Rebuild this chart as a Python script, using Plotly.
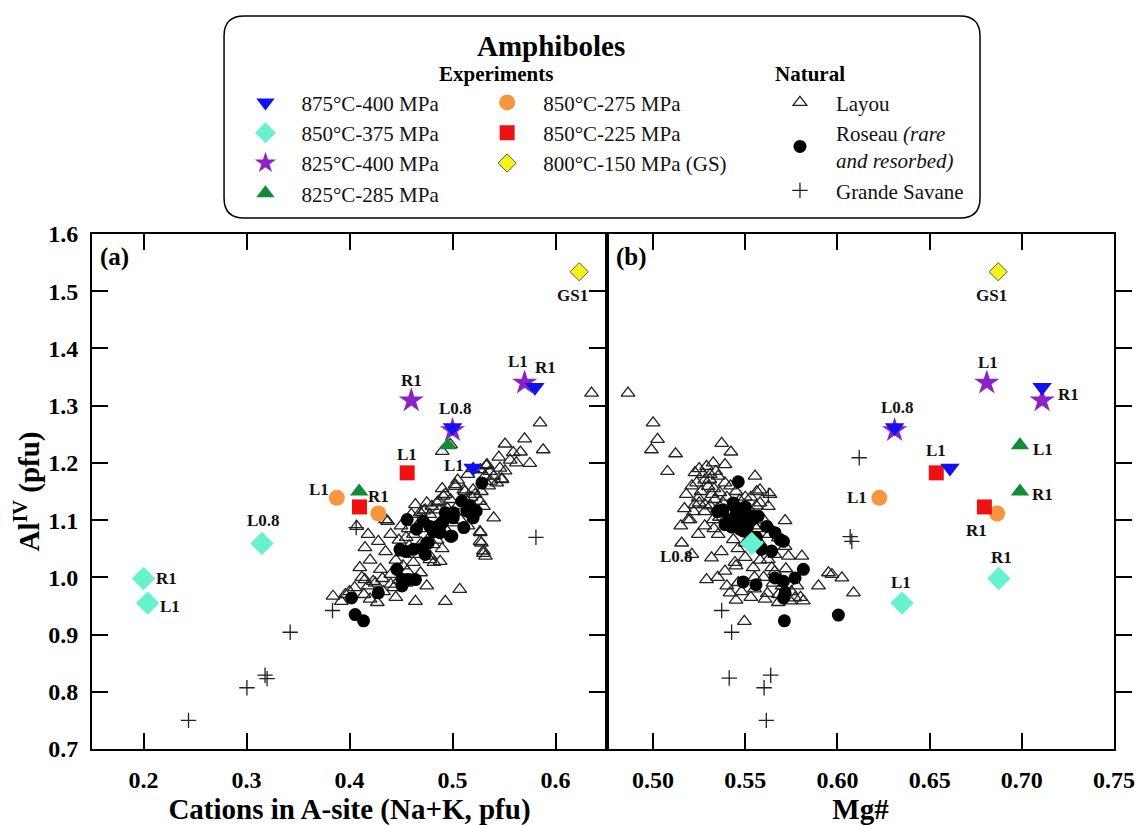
import plotly.graph_objects as go

# ---------------- data ----------------
# Experiments: run labels, Na+K (A-site), Mg#, Al(IV)
blue_run = ["L0.8", "L1", "R1"]          # 875°C-400 MPa
blue_nak = [0.500, 0.520, 0.580]
blue_mg = [0.631, 0.661, 0.711]
blue_al = [1.262, 1.191, 1.332]

aqua_run = ["L0.8", "L1", "R1"]          # 850°C-375 MPa
aqua_nak = [0.315, 0.204, 0.200]
aqua_mg = [0.5535, 0.635, 0.6875]
aqua_al = [1.059, 0.955, 0.998]

purple_run = ["L0.8", "L1", "R1"]        # 825°C-400 MPa
purple_nak = [0.500, 0.570, 0.460]
purple_mg = [0.631, 0.681, 0.711]
purple_al = [1.257, 1.340, 1.309]

green_run = ["L1", "R1"]                 # 825°C-285 MPa
green_nak = [0.4955, 0.4094]
green_mg = [0.699, 0.699]
green_al = [1.231, 1.150]

orange_run = ["L1", "R1"]                # 850°C-275 MPa
orange_nak = [0.3877, 0.428]
orange_mg = [0.6227, 0.6866]
orange_al = [1.139, 1.1115]

red_run = ["L1", "R1"]                   # 850°C-225 MPa
red_nak = [0.456, 0.4097]
red_mg = [0.6536, 0.6797]
red_al = [1.1826, 1.123]

yellow_run = ["GS1"]                     # 800°C-150 MPa (GS)
yellow_nak = [0.623]
yellow_mg = [0.6872]
yellow_al = [1.534]

# Natural samples, panel (a): Na+K vs Al(IV)
layou_a_x = [0.635, 0.585, 0.570, 0.551, 0.566, 0.588, 0.575, 0.490, 0.498, 0.533, 0.546, 0.551, 0.540, 0.548,
             0.537, 0.527, 0.503, 0.511, 0.520, 0.522, 0.491, 0.498, 0.464, 0.485, 0.493, 0.472, 0.457, 0.540,
             0.527, 0.528, 0.532, 0.530, 0.464, 0.451, 0.482, 0.462, 0.428, 0.415, 0.418, 0.407, 0.437, 0.410,
             0.430, 0.415, 0.405, 0.423, 0.443, 0.464, 0.493, 0.507, 0.384, 0.396, 0.414, 0.427, 0.440, 0.475,
             0.478, 0.488, 0.456, 0.469, 0.435, 0.470, 0.478, 0.487, 0.495, 0.505, 0.513, 0.518, 0.528, 0.535,
             0.543, 0.455, 0.462, 0.470, 0.480, 0.470, 0.458, 0.448, 0.445, 0.452, 0.440, 0.432, 0.425, 0.448,
             0.455, 0.500, 0.508, 0.515, 0.495, 0.485, 0.490, 0.559, 0.412, 0.420,
             0.5334, 0.5363, 0.5315, 0.5479, 0.5026, 0.512, 0.4864, 0.480, 0.4735, 0.4687, 0.5267, 0.530,
             0.5267, 0.5267, 0.530, 0.4814, 0.4783, 0.392, 0.400, 0.418, 0.433, 0.445, 0.420, 0.435, 0.440,
             0.450, 0.460, 0.475, 0.490, 0.505, 0.515, 0.520, 0.556, 0.562, 0.545]
layou_a_y = [1.322, 1.270, 1.242, 1.233, 1.219, 1.223, 1.199, 1.220, 1.232, 1.195, 1.191, 1.186, 1.177, 1.172,
             1.168, 1.188, 1.159, 1.153, 1.153, 1.145, 1.142, 1.136, 1.127, 1.130, 1.145, 1.116, 1.085, 1.104,
             1.078, 1.060, 1.037, 1.042, 1.040, 1.043, 1.026, 1.026, 1.063, 1.052, 1.075, 1.089, 1.098, 1.017,
             1.014, 0.996, 0.982, 0.993, 0.982, 0.958, 0.958, 0.979, 0.967, 0.970, 0.970, 0.956, 0.988, 0.985,
             1.031, 1.028, 1.011, 1.008, 1.101, 1.100, 1.110, 1.118, 1.120, 1.125, 1.135, 1.140, 1.150, 1.160,
             1.165, 1.070, 1.075, 1.085, 1.075, 1.060, 1.055, 1.065, 1.030, 1.020, 1.005, 0.998, 0.990, 0.995,
             0.990, 1.095, 1.100, 1.090, 1.080, 1.065, 1.050, 1.218, 1.000, 0.962,
             1.197, 1.185, 1.177, 1.171, 1.162, 1.150, 1.133, 1.124, 1.118, 1.113, 1.133, 1.124,
             1.080, 1.063, 1.046, 1.057, 1.037, 0.958, 0.975, 0.985, 0.975, 0.965, 1.030, 1.045, 1.075,
             1.090, 1.110, 1.130, 1.155, 1.170, 1.180, 1.190, 1.205, 1.200, 1.210]

roseau_a_x = [0.5285, 0.509, 0.523, 0.520, 0.511, 0.498, 0.491, 0.478, 0.465, 0.456, 0.475, 0.462, 0.449, 0.4735,
              0.501, 0.493, 0.514, 0.488, 0.485, 0.446, 0.451, 0.457, 0.464, 0.451, 0.428, 0.402, 0.4055, 0.4136,
              0.455, 0.517, 0.470, 0.4765, 0.4716, 0.4813, 0.4894, 0.5007, 0.5154, 0.4993]
roseau_a_y = [1.165, 1.133, 1.1155, 1.104, 1.087, 1.072, 1.098, 1.089, 1.084, 1.101, 1.060, 1.049, 1.049, 1.040,
              1.113, 1.113, 1.1155, 1.078, 1.089, 1.014, 0.996, 0.996, 0.996, 0.985, 0.973, 0.964, 0.935, 0.924,
              1.045, 1.125, 1.050, 1.060, 1.098, 1.080, 1.095, 1.104, 1.118, 1.072]

savane_a_x = [0.4065, 0.581, 0.3835, 0.3424, 0.318, 0.320, 0.3004, 0.2437]
savane_a_y = [1.087, 1.070, 0.942, 0.904, 0.829, 0.823, 0.807, 0.750]

# Natural samples, panel (b): Mg# vs Al(IV)
layou_b_x = [0.4864, 0.500, 0.5024, 0.4991, 0.5122, 0.5372, 0.5422, 0.5078, 0.5553, 0.5562, 0.5716, 0.520, 0.529,
             0.5326, 0.539, 0.5227, 0.5308, 0.5353, 0.5236, 0.5299, 0.539, 0.558, 0.5634, 0.5245, 0.5362, 0.5335,
             0.5227, 0.5281, 0.519, 0.5326, 0.558, 0.5625, 0.5245, 0.5353, 0.5435, 0.5679, 0.5716, 0.5634, 0.5317,
             0.539, 0.529, 0.5444, 0.5462, 0.5543, 0.5625, 0.5643, 0.5734, 0.5807, 0.5897, 0.5951, 0.597, 0.6024,
             0.6087, 0.5417, 0.5607, 0.5679, 0.5815, 0.5495, 0.577, 0.5743, 0.527, 0.534, 0.526, 0.532, 0.540,
             0.545, 0.550, 0.528, 0.535, 0.545, 0.552, 0.540, 0.548, 0.555, 0.560, 0.553, 0.558, 0.546, 0.550,
             0.537, 0.560, 0.555, 0.565, 0.570, 0.575, 0.548, 0.553, 0.562, 0.566, 0.5155, 0.5210,
             0.525, 0.531, 0.528, 0.521, 0.533, 0.542, 0.518, 0.525, 0.531, 0.538, 0.547, 0.553, 0.556, 0.522,
             0.517, 0.536, 0.543, 0.556, 0.563, 0.528, 0.533, 0.515, 0.550, 0.545, 0.558, 0.566, 0.572, 0.555,
             0.568, 0.578, 0.580, 0.545, 0.540, 0.535]
layou_b_y = [1.322, 1.270, 1.241, 1.223, 1.216, 1.234, 1.219, 1.185, 1.177, 1.150, 1.099, 1.101, 1.194,
             1.200, 1.197, 1.183, 1.171, 1.177, 1.165, 1.159, 1.165, 1.153, 1.145, 1.139, 1.148, 1.136,
             1.127, 1.127, 1.101, 1.101, 1.130, 1.124, 1.075, 1.075, 1.066, 1.069, 1.054, 1.087, 1.034,
             1.011, 0.996, 1.026, 0.991, 1.017, 1.031, 1.017, 1.037, 1.037, 0.985, 1.008, 1.005, 0.999,
             0.973, 0.973, 0.962, 0.956, 0.959, 0.923, 0.964, 0.959, 1.180, 1.185, 1.150, 1.145, 1.140,
             1.150, 1.140, 1.115, 1.120, 1.125, 1.120, 1.105, 1.095, 1.090, 1.100, 1.070, 1.060, 1.050, 1.035,
             1.045, 1.000, 1.000, 0.990, 0.985, 0.975, 0.975, 0.965, 0.972, 1.010, 1.060, 1.040,
             1.190, 1.180, 1.170, 1.160, 1.155, 1.160, 1.145, 1.130, 1.125, 1.130, 1.135, 1.140, 1.125, 1.115,
             1.120, 1.105, 1.100, 1.085, 1.075, 1.090, 1.085, 1.090, 1.060, 1.020, 1.030, 1.040, 1.015, 0.980,
             0.970, 0.985, 0.965, 0.960, 0.985, 1.000]

roseau_b_x = [0.5462, 0.538, 0.5435, 0.550, 0.557, 0.539, 0.5426, 0.5489, 0.5589, 0.5643, 0.5689, 0.5815, 0.5489,
              0.5558, 0.5661, 0.5707, 0.577, 0.5716, 0.5707, 0.5712, 0.6005, 0.5535, 0.5489, 0.5408, 0.5471,
              0.5543, 0.5616, 0.5661, 0.5707, 0.545, 0.535, 0.552, 0.541, 0.547, 0.556, 0.544, 0.551]
roseau_b_y = [1.167, 1.118, 1.130, 1.123, 1.107, 1.092, 1.088, 1.081, 1.049, 1.046, 1.066, 1.014, 0.992,
              0.987, 0.999, 0.993, 0.999, 0.973, 0.964, 0.924, 0.934, 1.101, 1.113, 1.092, 1.084,
              1.107, 1.089, 1.078, 1.063, 1.110, 1.115, 1.095, 1.100, 1.095, 1.070, 1.125, 1.085]

savane_b_x = [0.6118, 0.5625, 0.6069, 0.6078, 0.5372, 0.5426, 0.5638, 0.5413, 0.5602, 0.5614]
savane_b_y = [1.209, 1.143, 1.071, 1.063, 0.942, 0.904, 0.829, 0.824, 0.807, 0.750]

x_a_ticks = [0.2, 0.3, 0.4, 0.5, 0.6]
x_a_labels = ["0.2", "0.3", "0.4", "0.5", "0.6"]
x_b_ticks = [0.50, 0.55, 0.60, 0.65, 0.70, 0.75]
x_b_labels = ["0.50", "0.55", "0.60", "0.65", "0.70", "0.75"]
y_ticks = [0.7, 0.8, 0.9, 1.0, 1.1, 1.2, 1.3, 1.4, 1.5, 1.6]
y_labels = ["0.7", "0.8", "0.9", "1.0", "1.1", "1.2", "1.3", "1.4", "1.5", "1.6"]

# ---------------- styling ----------------
FONT = "Liberation Serif"
fig = go.Figure()


def add_pair(name, xa, xb, y, marker, legend, rank):
    fig.add_trace(go.Scatter(x=xa, y=y, mode="markers", name=name, marker=marker,
                             xaxis="x", yaxis="y", legend=legend, legendgroup=name,
                             legendrank=rank, showlegend=True, hoverinfo="skip"))
    fig.add_trace(go.Scatter(x=xb, y=y, mode="markers", name=name, marker=marker,
                             xaxis="x2", yaxis="y", legend=legend, legendgroup=name,
                             showlegend=False, hoverinfo="skip"))


def add_nat(name, xa, ya, xb, yb, marker, rank):
    fig.add_trace(go.Scatter(x=xa, y=ya, mode="markers", name=name, marker=marker,
                             xaxis="x", yaxis="y", legend="legend3", legendgroup=name,
                             legendrank=rank, showlegend=True, hoverinfo="skip"))
    fig.add_trace(go.Scatter(x=xb, y=yb, mode="markers", name=name, marker=marker,
                             xaxis="x2", yaxis="y", legend="legend3", legendgroup=name,
                             showlegend=False, hoverinfo="skip"))


add_nat("Layou", layou_a_x, layou_a_y, layou_b_x, layou_b_y,
        dict(symbol="triangle-up-open", size=12, color="#222222", line=dict(width=1.3)), 1)
add_nat("Roseau <i>(rare</i><br><i>and resorbed)</i>", roseau_a_x, roseau_a_y, roseau_b_x, roseau_b_y,
        dict(symbol="circle", size=13, color="black"), 2)
add_nat("Grande Savane", savane_a_x, savane_a_y, savane_b_x, savane_b_y,
        dict(symbol="cross-thin-open", size=11, color="#222222", line=dict(width=1.3)), 3)

add_pair("850°C-375 MPa", aqua_nak, aqua_mg, aqua_al,
         dict(symbol="diamond", size=18, color="#66F2CC"), "legend", 2)
add_pair("825°C-400 MPa", purple_nak, purple_mg, purple_al,
         dict(symbol="star", size=19, color="#8A22C8"), "legend", 3)
add_pair("825°C-285 MPa", green_nak, green_mg, green_al,
         dict(symbol="triangle-up", size=16, color="#138A36"), "legend", 4)
add_pair("850°C-275 MPa", orange_nak, orange_mg, orange_al,
         dict(symbol="circle", size=16, color="#F7963C"), "legend2", 1)
add_pair("850°C-225 MPa", red_nak, red_mg, red_al,
         dict(symbol="square", size=15, color="#EE1111"), "legend2", 2)
add_pair("875°C-400 MPa", blue_nak, blue_mg, blue_al,
         dict(symbol="triangle-down", size=17, color="#1010F0"), "legend", 1)
add_pair("800°C-150 MPa (GS)", yellow_nak, yellow_mg, yellow_al,
         dict(symbol="diamond", size=14, color="#F7F21A", line=dict(width=0.8, color="#333333")), "legend2", 3)

# run labels: (run list, x values, y values, index, xref, dx, dy) -- offsets in px
label_specs = [
    (yellow_run, yellow_nak, yellow_al, 0, "x", -7, 24),
    (purple_run, purple_nak, purple_al, 1, "x", -7, -21),
    (blue_run, blue_nak, blue_al, 2, "x", 11, -20),
    (purple_run, purple_nak, purple_al, 2, "x", 0, -20),
    (blue_run, blue_nak, blue_al, 0, "x", 3, -19),
    (red_run, red_nak, red_al, 0, "x", 0, -18),
    (blue_run, blue_nak, blue_al, 1, "x", -19, -3),
    (orange_run, orange_nak, orange_al, 0, "x", -18, -8),
    (orange_run, orange_nak, orange_al, 1, "x", 0, -17),
    (aqua_run, aqua_nak, aqua_al, 0, "x", 2, -23),
    (aqua_run, aqua_nak, aqua_al, 2, "x", 23, 0),
    (aqua_run, aqua_nak, aqua_al, 1, "x", 22, 3),
    (yellow_run, yellow_mg, yellow_al, 0, "x2", -7, 24),
    (purple_run, purple_mg, purple_al, 1, "x2", 1, -20),
    (purple_run, purple_mg, purple_al, 2, "x2", 26, -6),
    (blue_run, blue_mg, blue_al, 0, "x2", 3, -20),
    (red_run, red_mg, red_al, 0, "x2", 0, -22),
    (green_run, green_mg, green_al, 0, "x2", 23, 4),
    (green_run, green_mg, green_al, 1, "x2", 23, 3),
    (orange_run, orange_mg, orange_al, 0, "x2", -22, 0),
    (red_run, red_mg, red_al, 1, "x2", -8, 24),
    (aqua_run, aqua_mg, aqua_al, 2, "x2", 3, -21),
    (aqua_run, aqua_mg, aqua_al, 1, "x2", -1, -21),
    (aqua_run, aqua_mg, aqua_al, 0, "x2", -75, 13),
]
annotations = []
for run, xs, ys, i, xref, dx, dy in label_specs:
    annotations.append(dict(x=xs[i], y=ys[i], xref=xref, yref="y", text="<b>%s</b>" % run[i],
                            showarrow=False, xshift=dx, yshift=-dy, xanchor="center", yanchor="middle",
                            font=dict(family=FONT, size=17, color="#111111")))

# panel letters and legend headings
head = dict(showarrow=False, xanchor="center", yanchor="middle")
annotations += [
    dict(x=0.043, y=0.955, xref="x domain", yref="y domain", text="<b>(a)</b>",
         font=dict(family=FONT, size=25, color="black"), **head),
    dict(x=0.049, y=0.955, xref="x2 domain", yref="y domain", text="<b>(b)</b>",
         font=dict(family=FONT, size=25, color="black"), **head),
    dict(x=0.4491, y=1.365, xref="paper", yref="paper", text="<b>Amphiboles</b>",
         font=dict(family=FONT, size=29, color="black"), **head),
    dict(x=0.3953, y=1.3107, xref="paper", yref="paper", text="<b>Experiments</b>",
         font=dict(family=FONT, size=21, color="black"), **head),
    dict(x=0.7025, y=1.3107, xref="paper", yref="paper", text="<b>Natural</b>",
         font=dict(family=FONT, size=21, color="black"), **head),
]

# rounded legend frame
x0, x1, y0, y1 = 0.1292, 0.8689, 1.0311, 1.4233
rx, ry = 0.0196, 0.0388
path = (f"M {x0+rx},{y0} L {x1-rx},{y0} Q {x1},{y0} {x1},{y0+ry} L {x1},{y1-ry} "
        f"Q {x1},{y1} {x1-rx},{y1} L {x0+rx},{y1} Q {x0},{y1} {x0},{y1-ry} "
        f"L {x0},{y0+ry} Q {x0},{y0} {x0+rx},{y0} Z")
shapes = [dict(type="path", path=path, xref="paper", yref="paper",
               line=dict(color="black", width=1.5), fillcolor="rgba(0,0,0,0)")]

axis_common = dict(showline=True, linewidth=2, linecolor="black", mirror="allticks",
                   ticks="inside", ticklen=16, tickwidth=2, tickcolor="black",
                   showgrid=False, zeroline=False)
tickfont = dict(family=FONT, size=24, color="black", weight="bold")
titlefont = dict(family=FONT, size=29, color="black", weight="bold")

legend_common = dict(font=dict(family=FONT, size=21, color="#111111"), bgcolor="rgba(0,0,0,0)",
                     xanchor="left", yanchor="top", itemwidth=62, tracegroupgap=5,
                     traceorder="normal", itemclick=False, itemdoubleclick=False)

SPLIT = 515 / 1022

fig.update_layout(
    width=1146, height=825,
    margin=dict(l=84, r=40, t=226, b=84),
    paper_bgcolor="white", plot_bgcolor="white",
    font=dict(family=FONT, color="black"),
    xaxis=dict(domain=[0, SPLIT], range=[0.15, 0.65], tickvals=x_a_ticks, ticktext=x_a_labels,
               tickfont=tickfont, ticklabelstandoff=8,
               title=dict(text="Cations in A-site (Na+K, pfu)", font=titlefont, standoff=2),
               anchor="y", **axis_common),
    xaxis2=dict(domain=[SPLIT, 1], range=[0.475, 0.75], tickvals=x_b_ticks, ticktext=x_b_labels,
                tickfont=tickfont, ticklabelstandoff=8,
                title=dict(text="Mg#", font=titlefont, standoff=2),
                anchor="y", **axis_common),
    yaxis=dict(range=[0.7, 1.6], tickvals=y_ticks, ticktext=y_labels, tickfont=tickfont,
               ticklabelstandoff=7,
               title=dict(text="Al<sup>IV</sup> (pfu)", font=titlefont, standoff=0),
               anchor="x", **axis_common),
    yaxis2=dict(range=[0.7, 1.6], tickvals=y_ticks, showticklabels=False, anchor="x2",
                overlaying="y", matches="y", **axis_common),
    legend=dict(x=0.1345, y=1.2946, **legend_common),
    legend2=dict(x=0.371, y=1.2946, **legend_common),
    legend3=dict(x=0.6575, y=1.2946, **legend_common),
    annotations=annotations,
    shapes=shapes,
    showlegend=True,
)

fig.write_html("out.html")
